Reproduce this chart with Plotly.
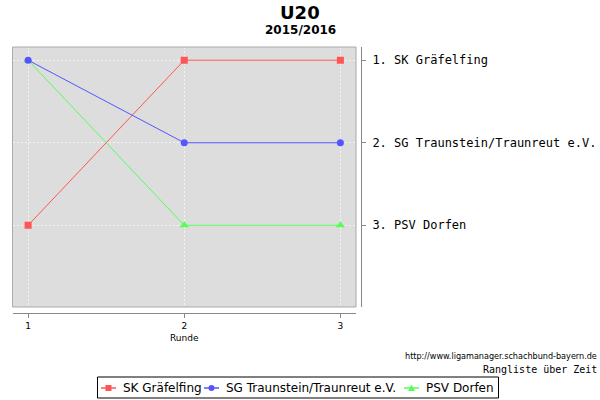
import plotly.graph_objects as go

rounds = [1, 2, 3]
teams = ["SK Gräfelfing", "SG Traunstein/Traunreut e.V.", "PSV Dorfen"]
rank_sk = [3, 1, 1]
rank_sg = [1, 2, 2]
rank_psv = [1, 3, 3]
final_labels = ["1. SK Gräfelfing", "2. SG Traunstein/Traunreut e.V.", "3. PSV Dorfen"]
colors = ["#FF5555", "#5555FF", "#55FF55"]
symbols = ["square", "circle", "triangle-up"]

W, H = 600, 400
def px(x):
    return x / W
def py(y):
    return 1 - y / H

fig = go.Figure()
series = [(0, rank_sk), (2, rank_psv), (1, rank_sg)]
for i, vals in series:
    fig.add_trace(go.Scatter(
        x=rounds, y=vals, name=teams[i], mode="lines+markers",
        line=dict(color=colors[i], width=1),
        marker=dict(symbol=symbols[i], color=colors[i], size=7 if i != 2 else 8),
        showlegend=False,
    ))

# custom legend drawn in paper coordinates
leg_line_x0 = [101, 204, 404]
leg_text_x = [120.5, 224, 424]
leg_y = 388
r = 3
for i in range(3):
    x0 = leg_line_x0[i]
    cx = x0 + 7.5
    fig.add_shape(type="line", xref="paper", yref="paper",
                  x0=px(x0), x1=px(x0 + 15), y0=py(leg_y), y1=py(leg_y),
                  line=dict(color=colors[i], width=1.5))
    if symbols[i] == "square":
        fig.add_shape(type="rect", xref="paper", yref="paper",
                      x0=px(cx - r), x1=px(cx + r), y0=py(leg_y - r), y1=py(leg_y + r),
                      line=dict(width=0), fillcolor=colors[i])
    elif symbols[i] == "circle":
        fig.add_shape(type="circle", xref="paper", yref="paper",
                      x0=px(cx - r), x1=px(cx + r), y0=py(leg_y - r), y1=py(leg_y + r),
                      line=dict(width=0), fillcolor=colors[i])
    else:
        path = (f"M {px(cx - 3.5)} {py(leg_y + 3)} L {px(cx + 3.5)} {py(leg_y + 3)} "
                f"L {px(cx)} {py(leg_y - 3.5)} Z")
        fig.add_shape(type="path", xref="paper", yref="paper", path=path,
                      line=dict(width=0), fillcolor=colors[i])
    fig.add_annotation(text=teams[i], x=px(leg_text_x[i]), y=py(leg_y), xref="paper", yref="paper",
                       xanchor="left", yanchor="middle", showarrow=False,
                       font=dict(family="DejaVu Sans", size=12))
fig.add_shape(type="rect", xref="paper", yref="paper",
              x0=px(97.5), x1=px(498.5), y0=py(377), y1=py(398),
              line=dict(color="black", width=1), fillcolor="rgba(0,0,0,0)")

fig.update_layout(
    width=W, height=H,
    margin=dict(l=0, r=0, t=0, b=0),
    paper_bgcolor="white",
    plot_bgcolor="#DDDDDD",
    font=dict(family="DejaVu Sans", color="black"),
    showlegend=False,
    xaxis=dict(
        domain=[px(12.5), px(356)], range=[0.9, 3.1],
        anchor="free", position=py(313),
        tickvals=rounds, ticktext=[str(v) for v in rounds],
        showline=True, linecolor="#888888", linewidth=1,
        ticks="outside", ticklen=4, tickcolor="#888888",
        tickfont=dict(family="DejaVu Sans", size=9),
        showgrid=True, gridcolor="#F4F4F4", griddash="2px,2px", gridwidth=1,
        zeroline=False, automargin=False,
        title=dict(text="Runde", font=dict(family="DejaVu Sans", size=9), standoff=4),
    ),
    yaxis=dict(
        domain=[py(307), py(47)], range=[3.99, 0.84],
        anchor="free", position=px(361), side="right",
        tickvals=[1, 2, 3], ticktext=final_labels,
        showline=True, linecolor="#888888", linewidth=1,
        ticks="outside", ticklen=4, tickcolor="#888888",
        tickfont=dict(family="DejaVu Sans Mono", size=12),
        ticklabelstandoff=4,
        showgrid=True, gridcolor="#F4F4F4", griddash="2px,2px", gridwidth=1,
        zeroline=False, automargin=False,
    ),
)

fig.add_shape(type="rect", xref="x domain", yref="y domain", x0=0, x1=1, y0=0, y1=1,
              line=dict(color="#AAAAAA", width=1), fillcolor="rgba(0,0,0,0)", layer="above")

fig.add_annotation(text="<b>U20</b>", x=0.5, y=py(12), xref="paper", yref="paper",
                   xanchor="center", yanchor="middle",
                   showarrow=False, font=dict(family="DejaVu Sans", size=18))
fig.add_annotation(text="<b>2015/2016</b>", x=0.5, y=py(30), xref="paper", yref="paper",
                   xanchor="center", yanchor="middle",
                   showarrow=False, font=dict(family="DejaVu Sans", size=12))
fig.add_annotation(text="http://www.ligamanager.schachbund-bayern.de", x=px(599), y=py(356),
                   xref="paper", yref="paper", xanchor="right", yanchor="middle", showarrow=False,
                   font=dict(family="DejaVu Sans Condensed", size=9))
fig.add_annotation(text="Rangliste über Zeit", x=px(599), y=py(369),
                   xref="paper", yref="paper", xanchor="right", yanchor="middle", showarrow=False,
                   font=dict(family="DejaVu Sans Mono", size=10))

fig.write_html("out.html", config={"displayModeBar": False},
               post_script="document.body.style.margin='0';")
